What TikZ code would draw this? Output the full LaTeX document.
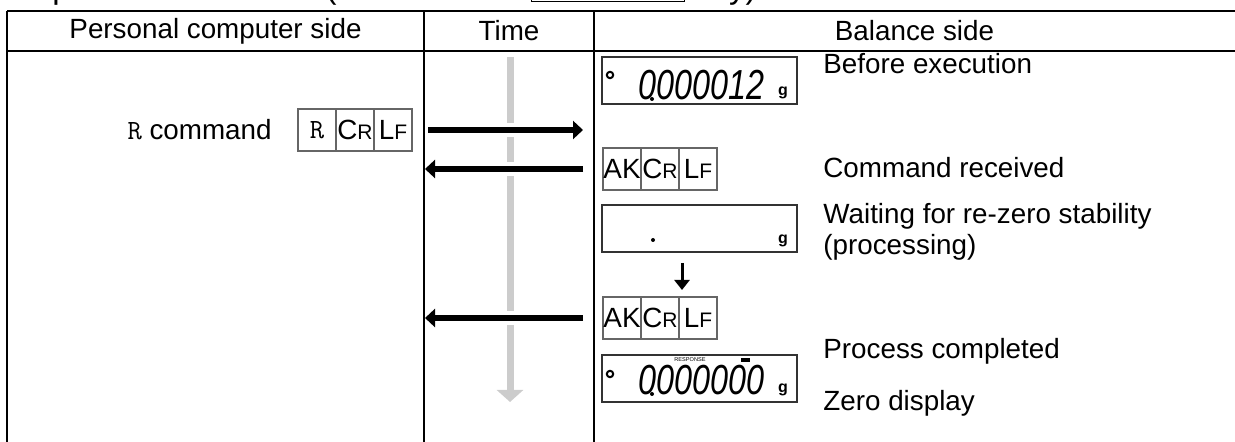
\documentclass[tikz,border=0pt]{standalone}
\usepackage{graphicx}
\usepackage{fontspec}
\setmainfont{Liberation Sans}
\usetikzlibrary{arrows.meta,positioning}
\definecolor{timegray}{HTML}{CCCCCC}
\definecolor{cellgray}{HTML}{666666}
\newcommand{\codeCR}{C{\fontsize{10.5}{12}\selectfont R}}
\newcommand{\codeLF}{L{\fontsize{10.5}{12}\selectfont F}}
\newcommand{\lcddigits}[1]{\scalebox{0.77}[1]{\fontsize{21}{21}\selectfont\itshape #1}}
\setlength{\fboxsep}{1pt}

\begin{document}
\begin{tikzpicture}[
		x=0.5pt, y=-0.5pt,
		font=\fontsize{13.9}{16}\selectfont,
		rule/.style={line width=1pt},
		cell/.style={draw=cellgray, line width=0.6pt, minimum width=19pt,
				minimum height=21pt, inner sep=0pt, outer sep=0pt},
		lcd/.style={draw=black!80, line width=0.6pt, minimum width=97.5pt,
				minimum height=23.5pt, inner sep=0pt},
		unitg/.style={anchor=base, inner sep=0pt, font=\fontsize{8}{8}\selectfont\bfseries},
		desc/.style={anchor=west, align=left, inner sep=0pt,
				font=\fontsize{13.9}{15.5}\selectfont},
		msg/.style={-{Triangle[length=5pt,width=9pt]}, line width=2.7pt,
				preaction={draw=white, line width=7pt, -}},
	]

	\useasboundingbox (0,0) rectangle (1235,442);
	\clip (0,0) rectangle (1235,442);

	\node[anchor=base east, inner sep=0pt, font=\fontsize{16.5}{18}\selectfont] (title)
	at (757,-1) {Example 3: \texttt{R} command (Same as the \fbox{RE-ZERO} key)};

	\draw[rule] (7,11) -- (1235,11);
	\draw[rule] (7,51) -- (1235,51);
	\draw[rule] (7,11) -- (7,442);
	\draw[rule] (424,11) -- (424,442);
	\draw[rule] (594,11) -- (594,442);

	\node (pchead) at (215.5,31) {Personal computer side};
	\node (timehead) at (509,31) {Time};
	\node (balhead) at (914.5,31) {Balance side};

	\coordinate (tstart) at (510,57);
	\coordinate (tend) at (510,402);
	\coordinate (pcedge) at (425,0);
	\coordinate (baledge) at (583,0);
	\draw[timegray, line width=3.5pt, -{Triangle[length=6pt,width=13pt]}] (tstart) -- (tend);

	\node[anchor=east, inner sep=0pt] (rcmd) at (272,130) {\texttt{R} command};
	\node[cell] (rR) at (317,130) {\texttt{R}};
	\node[cell, right=0pt of rR] (rCR) {\codeCR};
	\node[cell, right=0pt of rCR] (rLF) {\codeLF};

	\node[lcd] (disp1) at (699.5,80.5) {};
	\draw[line width=1pt] (610,75) circle (1.6pt);
	\node[anchor=base west, inner sep=0pt] (val1) at (638,100) {\lcddigits{00000\phantom{0}\llap{1}2}};
	\fill (652,99) circle (1pt);
	\node[unitg] (unit1) at (783,96) {g};
	\node[desc] (before) at (823,64) {Before execution};

	\node[cell] (ak1) at (622,169) {AK};
	\node[cell, right=0pt of ak1] (ak1cr) {\codeCR};
	\node[cell, right=0pt of ak1cr] (ak1lf) {\codeLF};
	\node[desc] (received) at (823,168) {Command received};

	\node[lcd] (disp2) at (699.5,228.5) {};
	\fill (653,240) circle (1pt);
	\node[unitg] (unit2) at (783,244) {g};
	\node[desc] (waiting) at (823,232) {Waiting for re-zero stability\\(processing)};

	\coordinate (waittop) at (682,263);
	\coordinate (waitend) at (682,290);
	\draw[line width=1.5pt, -{Triangle[length=5pt,width=7.5pt]}] (waittop) -- (waitend);

	\node[cell] (ak2) at (622,318) {AK};
	\node[cell, right=0pt of ak2] (ak2cr) {\codeCR};
	\node[cell, right=0pt of ak2cr] (ak2lf) {\codeLF};

	\node[lcd] (disp3) at (699.5,378.5) {};
	\draw[line width=1pt] (610,374) circle (1.6pt);
	\node[inner sep=0pt, font=\fontsize{2.8}{3}\selectfont] (resp) at (690,360) {RESPONSE};
	\fill (741,358) rectangle (750,362);
	\node[anchor=base west, inner sep=0pt] (val3) at (638,395) {\lcddigits{0000000}};
	\fill (652,394) circle (1pt);
	\node[unitg] (unit3) at (783,393) {g};
	\node[desc] (completed) at (823,351) {Process completed};
	\node[desc] (zero) at (823,403) {Zero display};

	\draw[msg] ([xshift=8pt]rLF.east) -- (rLF.east -| baledge);
	\draw[msg] ([xshift=-10pt]ak1.west) -- (ak1.west -| pcedge);
	\draw[msg] ([xshift=-10pt]ak2.west) -- (ak2.west -| pcedge);

\end{tikzpicture}
\end{document}
